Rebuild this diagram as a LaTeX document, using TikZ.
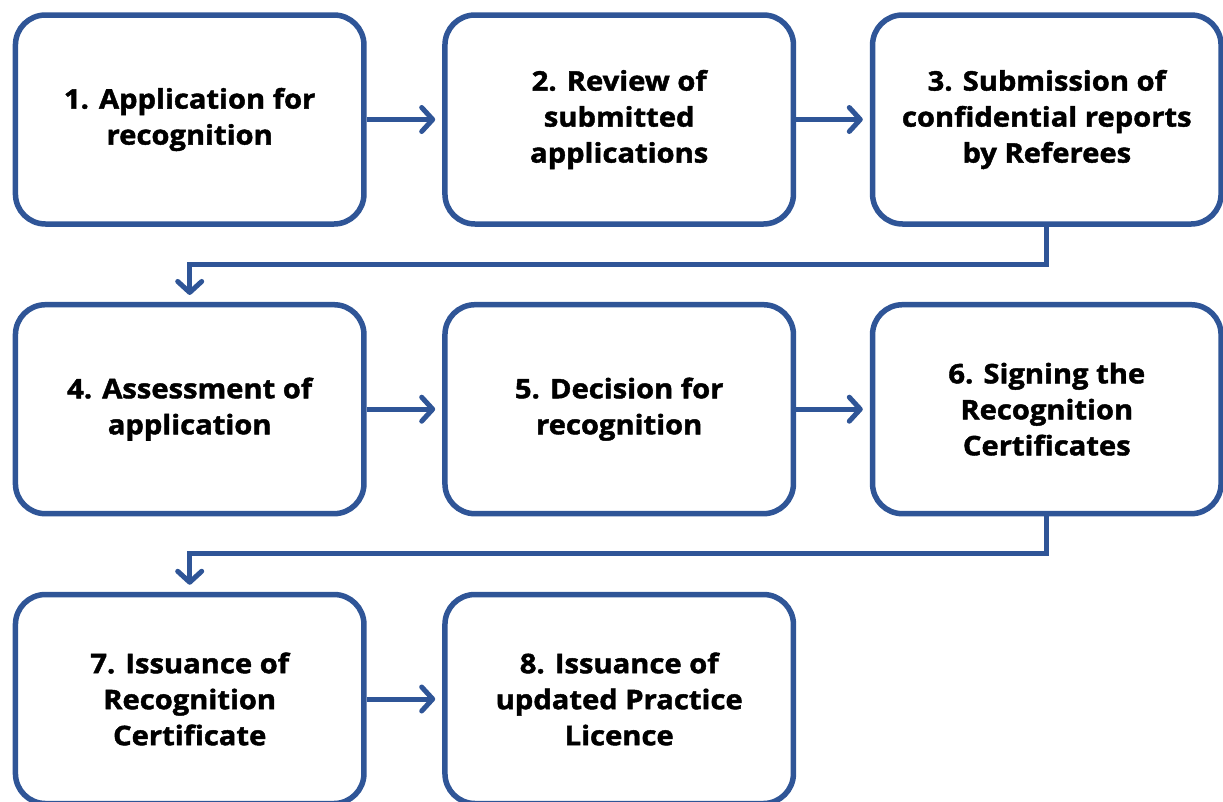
\documentclass[tikz,border=0pt]{standalone}
\usepackage{fontspec}
\setmainfont{Open Sans}[BoldFeatures={FakeBold=1.6,FakeStretch=1.08}]
\usetikzlibrary{arrows.meta}
\definecolor{boxblue}{RGB}{47,85,151}
\begin{document}
\begin{tikzpicture}[x=1pt,y=-1pt,
  stepbox/.style={draw=boxblue, line width=5.5pt, rounded corners=30pt, fill=white,
    minimum width=348.5pt, minimum height=209pt, inner sep=0pt, align=center,
    font=\fontsize{27pt}{36pt}\selectfont\bfseries},
  flow/.style={draw=boxblue, line width=5pt, line join=miter,
    -{Straight Barb[length=11pt,width=24pt,round]}, shorten >=7pt}]
\useasboundingbox (0,0) rectangle (1223,801);
\node[stepbox] (b1) at (189.7,119.5) {1. Application for\\recognition};
\node[stepbox] (b2) at (619.2,119.5) {2. Review of\\submitted\\applications};
\node[stepbox] (b3) at (1046.8,119.5) {3. Submission of\\confidential reports\\by Referees};
\node[stepbox] (b4) at (189.7,409.2) {4. Assessment of\\application};
\node[stepbox] (b5) at (619.2,409.2) {5. Decision for\\recognition};
\node[stepbox] (b6) at (1046.8,409.2) {6. Signing the\\Recognition\\Certificates};
\node[stepbox] (b7) at (189.7,699) {7. Issuance of\\Recognition\\Certificate};
\node[stepbox] (b8) at (619.2,699) {8. Issuance of\\updated Practice\\Licence};
\coordinate (m1) at (620,264.3);
\coordinate (m2) at (620,553);
\draw[flow] (b1) -- (b2);
\draw[flow] (b2) -- (b3);
\draw[flow] (b3.south) |- (m1) -| (b4.north);
\draw[flow] (b4) -- (b5);
\draw[flow] (b5) -- (b6);
\draw[flow] (b6.south) |- (m2) -| (b7.north);
\draw[flow] (b7) -- (b8);
\end{tikzpicture}
\end{document}
